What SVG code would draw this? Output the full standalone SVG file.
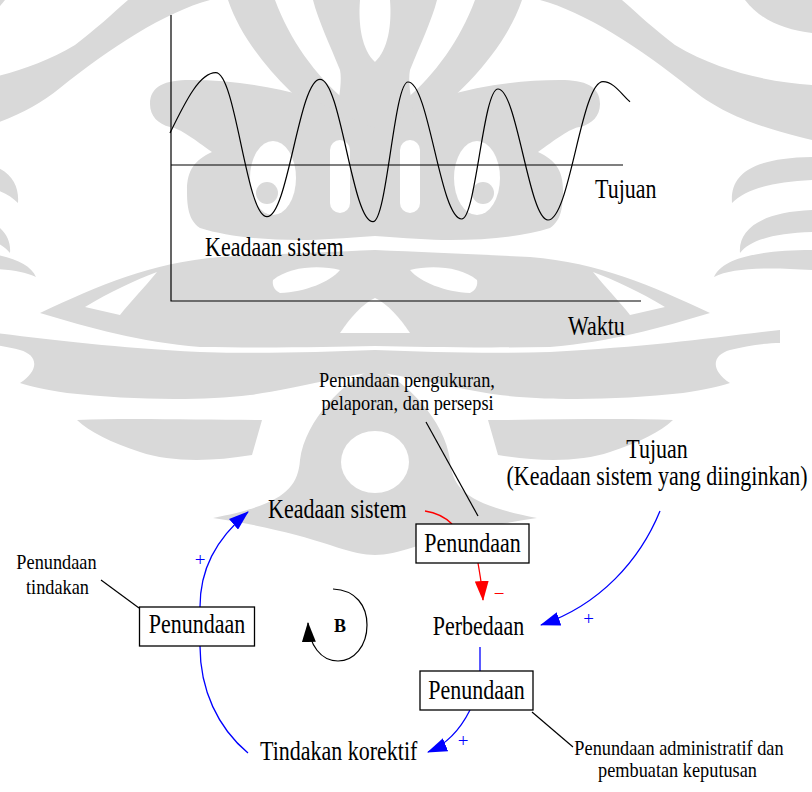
<svg xmlns="http://www.w3.org/2000/svg" xmlns:xlink="http://www.w3.org/1999/xlink" width="812" height="792" viewBox="0 0 812 792">
  <style>
    .t { font-family: "Liberation Serif", "Times New Roman", serif; fill: #000; }
    .lg { font-size: 22px; }
    .sm { font-size: 18.3px; }
    .mid { text-anchor: middle; }
    .ln { fill: none; stroke: #000; stroke-width: 1.2; }
    .bl { fill: none; stroke: #0000ff; stroke-width: 1.3; }
    .rd { fill: none; stroke: #ff0000; stroke-width: 1.3; }
    .box { fill: #fff; stroke: #000; stroke-width: 1.3; }
    .wm { fill: #d9d9d9; }
    .wh { fill: #fff; }
    .sgnb { font-family: "Liberation Serif", serif; font-size: 19px; fill: #0000ff; text-anchor: middle; }
    .sgnr { font-family: "Liberation Serif", serif; font-size: 19px; fill: #ff0000; text-anchor: middle; }
  </style>
  <defs>
    <marker id="ahBlue" markerUnits="userSpaceOnUse" markerWidth="20" markerHeight="14" refX="19" refY="7" orient="auto">
      <path d="M0,0 L20,7 L0,14 Z" fill="#0000ff"/>
    </marker>
    <marker id="ahRed" markerUnits="userSpaceOnUse" markerWidth="20" markerHeight="14" refX="19" refY="7" orient="auto">
      <path d="M0,0 L20,7 L0,14 Z" fill="#ff0000"/>
    </marker>
    <marker id="ahBlack" markerUnits="userSpaceOnUse" markerWidth="20" markerHeight="14" refX="19" refY="7" orient="auto">
      <path d="M0,0 L20,7 L0,14 Z" fill="#000"/>
    </marker>
    <!-- left half of the background emblem (axis x=375); mirrored for the right half -->
    <g id="emblemHalf">
      <g class="wm">
        <!-- outer wing and corner sliver -->
        <path d="M-62,85 C-20,82 30,72 75,45 C95,30 112,14 128,0 L210,0 C165,12 110,48 60,88 C30,112 0,125 -62,140 Z"/>
        <path d="M-62,0 L5,0 C-10,20 -35,30 -62,33 Z"/>
        <!-- edge curls -->
        <path d="M-62,157 C0,158 20,175 18,203 C5,190 -20,182 -62,180 Z"/>
        <path d="M-62,210 C-10,212 12,230 10,253 C0,240 -25,233 -62,232 Z"/>
        <path d="M-62,250 C-10,250 28,258 36,277 C18,268 -15,267 -62,270 Z"/>
        <!-- arm and inner prong of the head -->
        <path d="M228,0 L275,0 C290,40 315,75 345,100 L330,125 C290,95 245,50 228,0 Z"/>
        <path d="M313,0 L360,0 C358,25 362,50 375,62 L375,140 L335,120 C340,95 342,80 340,70 C330,45 318,20 313,0 Z"/>
        <!-- body with ear -->
        <path d="M150,104 C150,86 165,80 190,80 C230,80 270,86 305,96 C325,104 340,115 375,128 L375,236 C345,238 320,240 300,240 C260,240 225,236 200,228 C188,220 187,205 187,190 C187,170 195,160 212,152 C195,140 180,128 170,127 C158,124 150,116 150,104 Z"/>
        <!-- mouth / horizontal arm -->
        <path d="M40,313 C100,285 150,263 220,257 C280,254 330,252 375,250 L375,346 C330,347 270,348 200,347 C140,342 90,328 40,313 Z"/>
        <!-- lower sweep with hook -->
        <path d="M-30,330 C40,338 100,347 200,352 C260,354 320,352 375,350 L375,372 C330,378 300,388 250,395 C200,401 130,400 67,393 C45,390 30,386 20,383 C40,370 38,355 20,350 C5,346 -15,343 -30,343 Z"/>
        <!-- bottom crescent -->
        <path d="M77,420 C130,418 200,420 262,420 L252,455 C210,462 170,462 140,452 C110,442 90,432 77,420 Z"/>
        <!-- drop body and lower horn -->
        <path d="M375,368 C345,380 305,420 300,460 C298,490 280,505 213,518 C260,525 300,535 330,545 C350,552 365,555 375,555 Z"/>
      </g>
      <g class="wh">
        <ellipse cx="273" cy="178" rx="23" ry="37"/>
        <rect x="330" y="140" width="20" height="73" rx="10"/>
        <path d="M273,280 C290,266 320,265 340,270 C330,282 305,292 280,293 C274,290 272,285 273,280 Z"/>
        <path d="M85,307 C110,292 135,280 157,272 C145,287 130,302 120,315 Z"/>
        <path d="M340,333 C350,318 362,304 375,298 L375,333 Z"/>
      </g>
      <circle class="wm" cx="267" cy="193" r="11"/>
    </g>
  </defs>

  <!-- background emblem -->
  <g id="emblem">
    <use xlink:href="#emblemHalf"/>
    <use xlink:href="#emblemHalf" transform="translate(750,0) scale(-1,1)"/>
    <ellipse cx="375" cy="462" rx="34" ry="31" fill="#fff"/>
  </g>

  <!-- time chart -->
  <g id="chart">
    <path class="ln" d="M171,15 L171,301 L641,301"/>
    <path class="ln" d="M171,165 L623,165"/>
    <path class="ln" d="M170,133 C186,100 200,72.7 215.7,72.7 C236,72.7 246,216.7 267,216.7 C288,216.7 299,79.3 320,79.3 C341,79.3 352,221.7 373,221.7 C387,221.7 394,82 408,82 C429,82 440,219 461.7,219 C476,219 483,89 498,89 C517,89 529,220 548,220 C570,220 581,81.7 603,81.7 C614,81.7 622,95 630,101.7"/>
    <text class="t lg" transform="translate(595,198) scale(1,1.2)">Tujuan</text>
    <text class="t lg" transform="translate(205,256) scale(1,1.2)">Keadaan sistem</text>
    <text class="t lg" transform="translate(568,335) scale(1,1.2)">Waktu</text>
  </g>

  <!-- connectors -->
  <g id="connectors">
    <path class="ln" d="M426,422 L478,516"/>
    <path class="ln" d="M101,580 L139,608"/>
    <path class="ln" d="M532,712 L573,747"/>
    <path class="rd" d="M425,511 C438,513 446,518 452,524"/>
    <path class="rd" d="M478,563 C480,575 482,585 483,600" marker-end="url(#ahRed)"/>
    <path class="bl" d="M200,607 C200,570 215,540 248,512" marker-end="url(#ahBlue)"/>
    <path class="bl" d="M200,646 C200,690 218,728 248,753"/>
    <path class="bl" d="M660,511 C640,560 600,605 541,625" marker-end="url(#ahBlue)"/>
    <path class="bl" d="M480,647 L480,671"/>
    <path class="bl" d="M470,710 C460,730 445,745 428,752" marker-end="url(#ahBlue)"/>
    <path class="ln" d="M333,589 C356,590 367,606 367,625 C367,646 354,661 338,661 C321,661 309,645 308,623" marker-end="url(#ahBlack)"/>
    <text class="sgnb" x="200" y="566">+</text>
    <text class="sgnb" x="588.5" y="625">+</text>
    <text class="sgnb" x="463" y="747">+</text>
    <text class="sgnr" x="499" y="600">−</text>
    <text class="t mid" x="340" y="632" font-weight="bold" font-size="18">B</text>
  </g>

  <!-- nodes -->
  <g id="note-measure">
    <text class="t sm mid" transform="translate(407,387) scale(1,1.2)">Penundaan pengukuran,</text>
    <text class="t sm mid" transform="translate(407.5,410) scale(1,1.2)">pelaporan, dan persepsi</text>
  </g>
  <g id="node-state">
    <text class="t lg" transform="translate(268,518) scale(1,1.2)">Keadaan sistem</text>
  </g>
  <g id="node-goal">
    <text class="t lg mid" transform="translate(657,458) scale(1,1.2)">Tujuan</text>
    <text class="t lg mid" transform="translate(657,485) scale(1,1.2)">(Keadaan sistem yang diinginkan)</text>
  </g>
  <g id="delay-measure">
    <rect class="box" x="416" y="524" width="113" height="39"/>
    <text class="t lg mid" transform="translate(472.5,552) scale(1,1.2)">Penundaan</text>
  </g>
  <g id="node-gap">
    <text class="t lg mid" transform="translate(478.5,635) scale(1,1.2)">Perbedaan</text>
  </g>
  <g id="note-action">
    <text class="t sm mid" transform="translate(56.5,569) scale(1,1.2)">Penundaan</text>
    <text class="t sm mid" transform="translate(57.5,594) scale(1,1.2)">tindakan</text>
  </g>
  <g id="delay-action">
    <rect class="box" x="139.5" y="607" width="115" height="39"/>
    <text class="t lg mid" transform="translate(197,633) scale(1,1.2)">Penundaan</text>
  </g>
  <g id="delay-decision">
    <rect class="box" x="420" y="671" width="113" height="39"/>
    <text class="t lg mid" transform="translate(476.5,699) scale(1,1.2)">Penundaan</text>
  </g>
  <g id="node-action">
    <text class="t lg" transform="translate(260,760) scale(1,1.2)">Tindakan korektif</text>
  </g>
  <g id="note-decision">
    <text class="t sm mid" transform="translate(679,755) scale(1,1.2)">Penundaan administratif dan</text>
    <text class="t sm mid" transform="translate(677.5,777) scale(1,1.2)">pembuatan keputusan</text>
  </g>
</svg>
